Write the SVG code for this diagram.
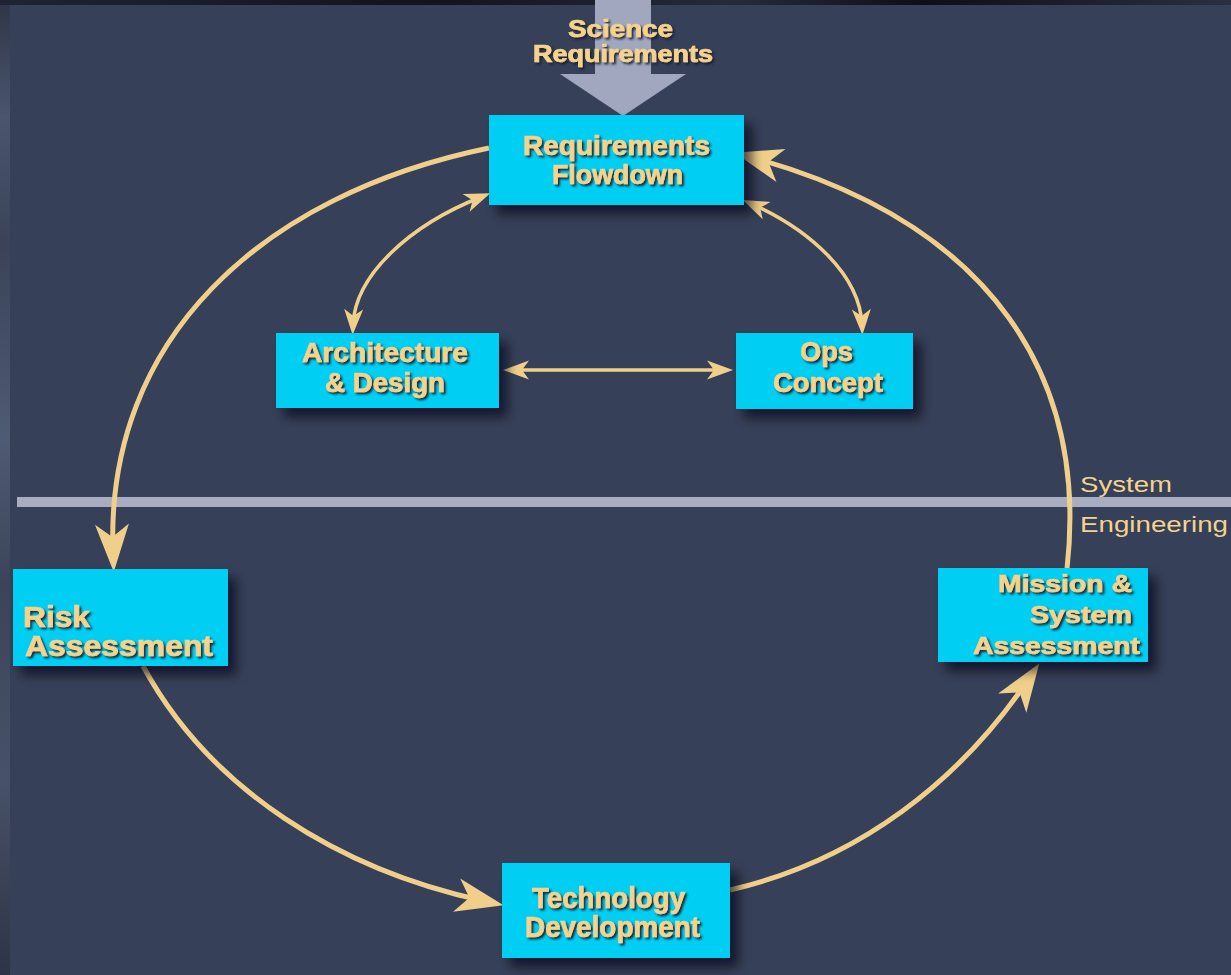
<svg xmlns="http://www.w3.org/2000/svg" width="1231" height="975" viewBox="0 0 1231 975">
  <defs>
    <style>
      .box { fill: #00CFF3; filter: url(#boxShadow); }
      .lbl { font-family: "Liberation Sans", Arial, sans-serif; font-weight: bold; fill: #F3D38E; stroke: #F3D38E; stroke-width: 0.7; filter: url(#textShadow); }
      .side { font-family: "Liberation Sans", Arial, sans-serif; fill: #F3D38E; }
      .big { fill: none; stroke: #F0CF8A; stroke-width: 5; }
      .small { fill: none; stroke: #F0CF8A; stroke-width: 3.5; }
    </style>
    <filter id="boxShadow" x="-20%" y="-20%" width="150%" height="160%">
      <feDropShadow dx="8" dy="9" stdDeviation="6" flood-color="#000010" flood-opacity="0.65"/>
    </filter>
    <filter id="textShadow" x="-10%" y="-20%" width="130%" height="160%">
      <feDropShadow dx="2" dy="2" stdDeviation="0.9" flood-color="#1A1C2A" flood-opacity="0.95"/>
    </filter>
    <linearGradient id="edgeLeft" x1="0" y1="0" x2="0" y2="1">
      <stop offset="0" stop-color="#2E3548"/>
      <stop offset="0.12" stop-color="#4A556E"/>
      <stop offset="0.25" stop-color="#3A4359"/>
      <stop offset="0.45" stop-color="#4F5A74"/>
      <stop offset="0.6" stop-color="#3B4459"/>
      <stop offset="0.8" stop-color="#475169"/>
      <stop offset="1" stop-color="#2D3446"/>
    </linearGradient>
    <linearGradient id="edgeTop" x1="0" y1="0" x2="1" y2="0">
      <stop offset="0" stop-color="#1E2433"/>
      <stop offset="0.35" stop-color="#10141E"/>
      <stop offset="0.6" stop-color="#252B3A"/>
      <stop offset="0.75" stop-color="#0C0F18"/>
      <stop offset="1" stop-color="#2A3040"/>
    </linearGradient>
    <marker id="headBig" markerUnits="userSpaceOnUse" viewBox="-50 -20 52 40" refX="-20" refY="0" markerWidth="52" markerHeight="40" orient="auto-start-reverse">
      <path d="M0,0 L-48,-17 L-35,0 L-48,17 Z" fill="#F0CF8A"/>
    </marker>
    <marker id="headSmall" markerUnits="userSpaceOnUse" viewBox="-30 -12 32 24" refX="-10" refY="0" markerWidth="32" markerHeight="24" orient="auto-start-reverse">
      <path d="M0,0 L-26,-9.5 L-19,0 L-26,9.5 Z" fill="#F0CF8A"/>
    </marker>
  </defs>

  <!-- backdrop -->
  <rect x="0" y="0" width="1231" height="975" fill="#364059"/>
  <rect x="0" y="0" width="10" height="975" fill="url(#edgeLeft)"/>
  <rect x="0" y="0" width="1231" height="5" fill="url(#edgeTop)"/>

  <!-- incoming science requirements arrow -->
  <polygon points="595,0 651,0 651,74 686,74 623,116 560,74 595,74" fill="#A0A7BE"/>

  <!-- system engineering divider -->
  <rect x="17" y="497" width="1214" height="10" fill="#A8ADC1"/>
  <text class="side" x="1080" y="492" font-size="22" textLength="92" lengthAdjust="spacingAndGlyphs">System</text>
  <text class="side" x="1080" y="532" font-size="22" textLength="148" lengthAdjust="spacingAndGlyphs">Engineering</text>

  <!-- connectors -->
  <g id="connectors">
    <path class="big" d="M489,148 C260,195 105,340 113,552" marker-end="url(#headBig)"/>
    <path class="big" d="M143,666 C210,790 340,870 484,901" marker-end="url(#headBig)"/>
    <path class="big" d="M730,890 C860,860 960,780 1028,680" marker-end="url(#headBig)"/>
    <path class="big" d="M1067,569 C1088,380 995,225 754,158" marker-end="url(#headBig)"/>
    <path class="small" d="M481,197 C410,225 355,275 353,325" marker-start="url(#headSmall)" marker-end="url(#headSmall)"/>
    <path class="small" d="M752,204 C810,230 860,275 862,325" marker-start="url(#headSmall)" marker-end="url(#headSmall)"/>
    <path class="small" d="M513,370 L723,370" marker-start="url(#headSmall)" marker-end="url(#headSmall)"/>
  </g>

  <!-- input label -->
  <g id="science-requirements">
    <text class="lbl" x="568" y="37" font-size="23" textLength="105" lengthAdjust="spacingAndGlyphs">Science</text>
    <text class="lbl" x="533" y="62" font-size="23" textLength="180" lengthAdjust="spacingAndGlyphs">Requirements</text>
  </g>

  <g id="requirements-flowdown">
    <rect class="box" x="489" y="115" width="255" height="90"/>
    <text class="lbl" x="523" y="155" font-size="27" textLength="187" lengthAdjust="spacingAndGlyphs">Requirements</text>
    <text class="lbl" x="552" y="184" font-size="27" textLength="131" lengthAdjust="spacingAndGlyphs">Flowdown</text>
  </g>

  <g id="architecture-design">
    <rect class="box" x="276" y="333" width="223" height="75"/>
    <text class="lbl" x="302" y="362" font-size="27" textLength="166" lengthAdjust="spacingAndGlyphs">Architecture</text>
    <text class="lbl" x="325" y="392" font-size="27" textLength="120" lengthAdjust="spacingAndGlyphs">&amp; Design</text>
  </g>

  <g id="ops-concept">
    <rect class="box" x="736" y="333" width="177" height="76"/>
    <text class="lbl" x="800" y="361" font-size="27" textLength="53" lengthAdjust="spacingAndGlyphs">Ops</text>
    <text class="lbl" x="773" y="392" font-size="27" textLength="110" lengthAdjust="spacingAndGlyphs">Concept</text>
  </g>

  <g id="risk-assessment">
    <rect class="box" x="13" y="569" width="215" height="97"/>
    <text class="lbl" x="23" y="627" font-size="29" textLength="67" lengthAdjust="spacingAndGlyphs">Risk</text>
    <text class="lbl" x="25" y="656" font-size="29" textLength="188" lengthAdjust="spacingAndGlyphs">Assessment</text>
  </g>

  <g id="mission-system-assessment">
    <rect class="box" x="938" y="568" width="210" height="94"/>
    <text class="lbl" x="998" y="592" font-size="24" textLength="134" lengthAdjust="spacingAndGlyphs">Mission &amp;</text>
    <text class="lbl" x="1030" y="623" font-size="24" textLength="102" lengthAdjust="spacingAndGlyphs">System</text>
    <text class="lbl" x="973" y="654" font-size="24" textLength="167" lengthAdjust="spacingAndGlyphs">Assessment</text>
  </g>

  <g id="technology-development">
    <rect class="box" x="502" y="863" width="228" height="95"/>
    <text class="lbl" x="532" y="908" font-size="29" textLength="153" lengthAdjust="spacingAndGlyphs">Technology</text>
    <text class="lbl" x="525" y="937" font-size="29" textLength="175" lengthAdjust="spacingAndGlyphs">Development</text>
  </g>
</svg>
